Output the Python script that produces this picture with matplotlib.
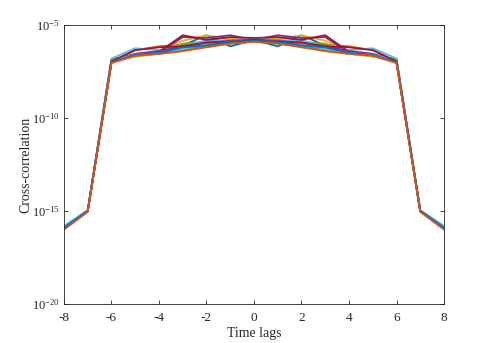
import numpy as np
import matplotlib
matplotlib.use("Agg")
import matplotlib.pyplot as plt
from matplotlib.ticker import FixedLocator, FuncFormatter, NullLocator

lags = [-8, -7, -6, -5, -4, -3, -2, -1, 0, 1, 2, 3, 4, 5, 6, 7, 8]

# log10 of cross-correlation values, one list per series
s01 = [-15.90, -15.00, -6.90, -6.60, -6.45, -6.10, -5.55, -6.15, -5.80, -6.15, -5.55, -6.10, -6.45, -6.60, -6.90, -15.00, -15.90]
s02 = [-15.95, -15.00, -7.00, -6.35, -6.15, -6.05, -5.90, -5.85, -5.80, -5.85, -5.90, -6.05, -6.15, -6.35, -7.00, -15.00, -15.95]
s03 = [-15.90, -15.00, -6.95, -6.55, -6.40, -5.85, -5.55, -5.75, -5.75, -5.75, -5.55, -5.85, -6.40, -6.55, -6.95, -15.00, -15.90]
s04 = [-15.90, -15.00, -6.85, -6.60, -6.50, -5.65, -5.70, -5.55, -5.80, -5.55, -5.70, -5.65, -6.50, -6.60, -6.85, -15.00, -15.90]
s05 = [-15.90, -15.00, -6.85, -6.70, -6.50, -6.00, -5.90, -5.80, -5.75, -5.80, -5.90, -6.00, -6.50, -6.70, -6.85, -15.00, -15.90]
s06 = [-15.80, -14.95, -6.80, -6.25, -6.35, -6.20, -5.80, -5.85, -5.70, -5.85, -5.80, -6.20, -6.35, -6.25, -6.80, -14.95, -15.80]
s07 = [-15.95, -15.00, -6.95, -6.60, -6.45, -5.55, -5.80, -5.65, -5.70, -5.65, -5.80, -5.55, -6.45, -6.60, -6.95, -15.00, -15.95]
s08 = [-15.90, -15.00, -7.00, -6.65, -6.50, -6.30, -6.00, -5.90, -5.80, -5.90, -6.00, -6.30, -6.50, -6.65, -7.00, -15.00, -15.90]
s09 = [-15.95, -15.00, -7.00, -6.60, -6.50, -6.35, -6.10, -5.95, -5.85, -5.95, -6.10, -6.35, -6.50, -6.60, -7.00, -15.00, -15.95]
s10 = [-15.90, -15.00, -6.95, -6.70, -6.55, -6.25, -6.05, -5.85, -5.90, -5.85, -6.05, -6.25, -6.55, -6.70, -6.95, -15.00, -15.90]
s11 = [-15.90, -15.00, -6.90, -6.55, -6.40, -6.15, -5.95, -5.85, -5.80, -5.85, -5.95, -6.15, -6.40, -6.55, -6.90, -15.00, -15.90]
s12 = [-15.90, -15.00, -6.85, -6.65, -6.55, -6.40, -6.15, -6.00, -5.90, -6.00, -6.15, -6.40, -6.55, -6.65, -6.85, -15.00, -15.90]
s13 = [-15.85, -15.00, -6.90, -6.60, -6.50, -6.30, -6.00, -5.90, -5.85, -5.90, -6.00, -6.30, -6.50, -6.60, -6.90, -15.00, -15.85]
s14 = [-15.95, -15.00, -6.95, -6.35, -6.20, -6.15, -5.95, -5.90, -5.80, -5.90, -5.95, -6.15, -6.20, -6.35, -6.95, -15.00, -15.95]
s15 = [-15.90, -15.00, -7.00, -6.60, -6.50, -6.20, -6.10, -5.90, -5.85, -5.90, -6.10, -6.20, -6.50, -6.60, -7.00, -15.00, -15.90]
s16 = [-16.00, -15.05, -7.05, -6.65, -6.55, -6.40, -6.20, -6.00, -5.90, -6.00, -6.20, -6.40, -6.55, -6.65, -7.05, -15.05, -16.00]
series = [s01, s02, s03, s04, s05, s06, s07, s08, s09, s10, s11, s12, s13, s14, s15, s16]

xticks = [-8, -6, -4, -2, 0, 2, 4, 6, 8]
yticks = [1e-20, 1e-15, 1e-10, 1e-5]

colors = ["#0072BD", "#D95319", "#EDB120", "#7E2F8E", "#77AC30", "#4DBEEE", "#A2142F"]

plt.rcParams['font.family'] = ['Liberation Serif', 'DejaVu Serif']
plt.rcParams['mathtext.fontset'] = 'custom'
plt.rcParams['mathtext.rm'] = 'Liberation Serif'
plt.rcParams['mathtext.it'] = 'Liberation Serif:italic'
plt.rcParams['mathtext.bf'] = 'Liberation Serif:bold'

fig = plt.figure(figsize=(4.91, 3.43), dpi=100)
ax = fig.add_axes([0.1303, 0.1137, 0.7740, 0.8134])

for i, s in enumerate(series):
    ax.plot(lags, 10.0 ** np.array(s), color=colors[i % 7], lw=1.3)

ax.set_yscale('log')
ax.set_xlim(-8, 8)
ax.set_ylim(1e-20, 1e-5)
ax.xaxis.set_major_locator(FixedLocator(xticks))
ax.yaxis.set_major_locator(FixedLocator(yticks))
ax.yaxis.set_minor_locator(NullLocator())
ax.xaxis.set_major_formatter(FuncFormatter(lambda v, p: f"{v:g}"))
ax.yaxis.set_major_formatter(FuncFormatter(lambda v, p: "10$^{\\mathrm{%d}}$" % round(np.log10(v))))

axcol = "#262626"
for sp in ax.spines.values():
    sp.set_color(axcol)
    sp.set_linewidth(0.6)
ax.tick_params(which='both', direction='in', top=True, right=True, length=3,
               width=0.6, color=axcol, labelcolor=axcol)
ax.tick_params(axis='x', pad=6, labelsize=9.5)
ax.tick_params(axis='y', pad=3, labelsize=9)
ax.set_xlabel("Time lags", fontsize=10, color=axcol)
ax.set_ylabel("Cross-correlation", fontsize=10, color=axcol)
ax.xaxis.set_label_coords(0.5, -0.082)
ax.yaxis.set_label_coords(-0.084, 0.5)

fig.savefig("out.png", dpi=100)
